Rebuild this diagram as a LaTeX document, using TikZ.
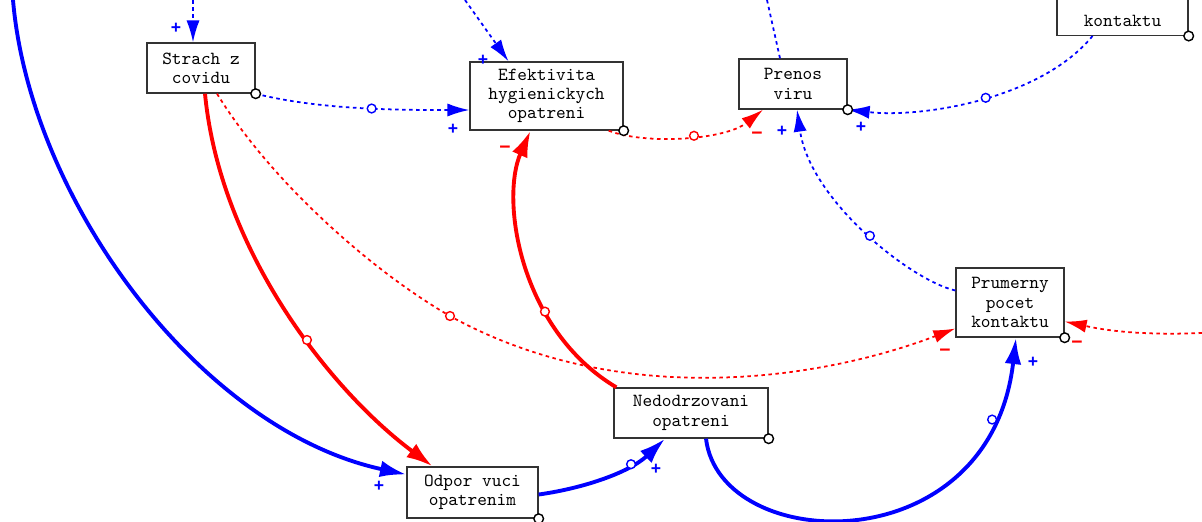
\documentclass[tikz,border=0pt]{standalone}
\usepackage{fontspec}
\newfontfamily\signfont{Liberation Sans}
\usetikzlibrary{arrows.meta,calc}

\begin{document}
    \begin{tikzpicture}[
            x=0.02cm, y=-0.02cm,
            varbox/.style={draw=black!80, line width=0.8pt, fill=white, align=center, inner sep=0pt,
                font=\ttfamily\fontsize{10.5}{11}\selectfont},
            bdot/.style={blue, line width=1pt, dash pattern=on 2pt off 2pt},
            rdot/.style={red, line width=1pt, dash pattern=on 2pt off 2pt},
            bfull/.style={blue, line width=2.2pt},
            rfull/.style={red, line width=2.2pt},
            thinhead/.style={-{Latex[length=12.5pt,width=7.5pt]}},
            thickhead/.style={-{Latex[length=15pt,width=9.5pt]}},
            linkdot/.style={circle, draw, solid, fill=white, inner sep=0pt, minimum size=5pt, line width=0.8pt},
            cornerdot/.style={circle, draw=black, fill=white, inner sep=0pt, minimum size=5.5pt, line width=0.8pt},
            possign/.style={blue, font=\signfont\bfseries\fontsize{10}{10}\selectfont},
            negsign/.style={red, font=\signfont\bfseries\fontsize{11}{11}\selectfont}
        ]
        \useasboundingbox (0,0) rectangle (1202,521);
        \clip (0,0) rectangle (1202,521);

        \node[varbox, minimum width=2.16cm, minimum height=1cm] (strach) at (201,68) {Strach z\\covidu};
        \node[varbox, minimum width=3.06cm, minimum height=1.36cm] (efekt) at (546.5,96) {Efektivita\\hygienickych\\opatreni};
        \node[varbox, minimum width=2.16cm, minimum height=1cm] (prenos) at (793,84) {Prenos\\viru};
        \node[varbox, minimum width=2.62cm, text height=40pt, text depth=5pt, anchor=south] (kont) at (1122.5,36) {kontaktu};
        \node[varbox, minimum width=2.16cm, minimum height=1.38cm] (prum) at (1010,302.5) {Prumerny\\pocet\\kontaktu};
        \node[varbox, minimum width=3.08cm, minimum height=1cm] (nedo) at (691,413) {Nedodrzovani\\opatreni};
        \node[varbox, minimum width=2.62cm, minimum height=1.02cm] (odpor) at (472.5,492.5) {Odpor vuci\\opatrenim};

        \coordinate (topstrach) at (193,0);
        \coordinate (topefekt) at (465,0);
        \coordinate (topprenos) at (767,0);
        \coordinate (rightprum) at (1202,333);
        \coordinate (topleft) at (13,0);

        \draw[bdot, thinhead] (topstrach) -- ($(strach.north)+(-8,0)$);
        \draw[bdot, thinhead] (topefekt) -- ($(efekt.north)+(-38,0)$);
        \draw[bdot] ($(prenos.north)+(-13,0)$) -- (topprenos);
        \draw[bdot, thinhead] (strach.south east)
            .. controls (320,110) and (400,110) .. ($(efekt.west)+(0,14)$)
            node[linkdot, pos=0.55] (dot1) {};
        \draw[rdot, thinhead] ($(efekt.south east)+(-15,0)$)
            .. controls (645,145) and (725,140) .. ($(prenos.south)+(-30,0)$)
            node[linkdot, pos=0.55] (dot2) {};
        \draw[bdot, thinhead] ($(kont.south)+(-30,0)$)
            .. controls (1040,100) and (920,118) .. (prenos.south east)
            node[linkdot, pos=0.47] (dot3) {};
        \draw[bdot, thinhead] ($(prum.west)+(0,-12)$)
            .. controls (910,280) and (810,200) .. ($(prenos.south)+(4,0)$)
            node[linkdot, pos=0.47] (dot4) {};
        \draw[rdot, thinhead] ($(strach.south)+(16,0)$)
            .. controls (270,180) and (370,270) .. (450,316) node[linkdot] (dot5) {}
            .. controls (620,410) and (820,380) .. ($(prum.west)+(0,26)$);
        \draw[rdot, thinhead] (rightprum)
            .. controls (1130,336) and (1095,328) .. ($(prum.east)+(0,19)$);
        \draw[rfull, thickhead] ($(strach.south)+(4,0)$)
            .. controls (220,250) and (330,390) .. ($(odpor.north)+(-40,0)$)
            node[linkdot, pos=0.58] (dot6) {};
        \draw[rfull, thickhead] ($(nedo.north west)+(3,0)$)
            .. controls (520,330) and (500,200) .. ($(efekt.south)+(-16,0)$)
            node[linkdot, pos=0.33] (dot7) {};
        \draw[bfull, thickhead] (topleft)
            .. controls (30,200) and (200,430) .. ($(odpor.west)+(0,-18)$);
        \draw[bfull, thickhead] ($(odpor.east)+(0,2)$)
            .. controls (585,488) and (630,472) .. ($(nedo.south)+(-26,0)$)
            node[linkdot, pos=0.7] (dot8) {};
        \draw[bfull, thickhead] ($(nedo.south)+(15,0)$)
            .. controls (720,555) and (990,565) .. ($(prum.south)+(6,0)$)
            node[linkdot, pos=0.86] (dot9) {};

        \foreach \n in {strach,efekt,prenos,kont,prum,nedo,odpor}
            \node[cornerdot] (\n corner) at (\n.south east) {};

        \node[possign] (s1) at (176,28) {+};
        \node[possign] (s2) at (453,129) {+};
        \node[possign] (s3) at (483,60) {+};
        \node[negsign] (s4) at (505,150) {−};
        \node[negsign] (s5) at (757,136) {−};
        \node[possign] (s6) at (782,131) {+};
        \node[possign] (s7) at (861,127) {+};
        \node[negsign] (s8) at (945,353) {−};
        \node[negsign] (s9) at (1077,345) {−};
        \node[possign] (s10) at (1033,362) {+};
        \node[possign] (s11) at (379,486) {+};
        \node[possign] (s12) at (656,469) {+};
    \end{tikzpicture}
\end{document}
